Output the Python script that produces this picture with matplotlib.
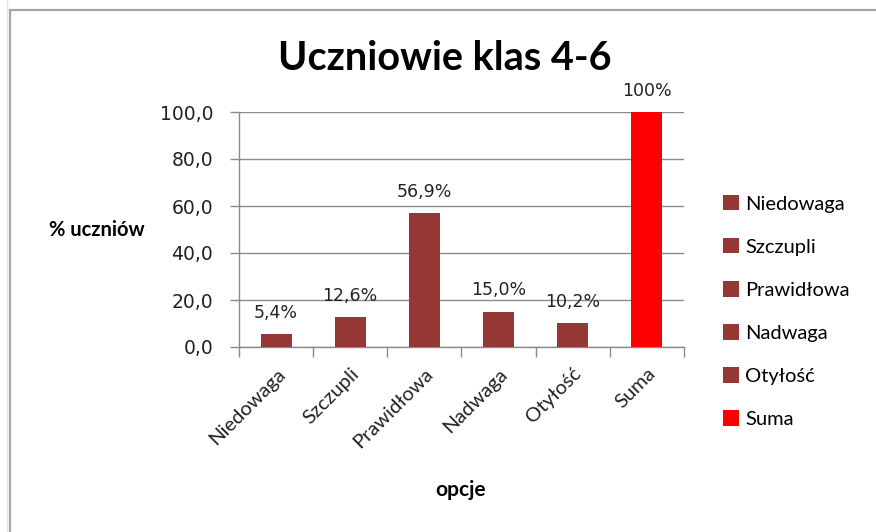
import matplotlib
matplotlib.use("Agg")
import matplotlib.pyplot as plt
from matplotlib.lines import Line2D

categories = ["Niedowaga", "Szczupli", "Prawidłowa", "Nadwaga", "Otyłość", "Suma"]
values = [5.4, 12.6, 56.9, 15.0, 10.2, 100.0]
value_labels = ["5,4%", "12,6%", "56,9%", "15,0%", "10,2%", "100%"]
yticks = [0, 20, 40, 60, 80, 100]
ytick_labels = ["0,0", "20,0", "40,0", "60,0", "80,0", "100,0"]
colors = ["#953735"] * 5 + ["#FF0000"]

W, H = 876, 532
fig = plt.figure(figsize=(W / 100, H / 100), dpi=100)
fig.patch.set_facecolor("white")

# frame lines
fig.add_artist(Line2D([10 / W, 10 / W], [0, 1 - 10 / H], color="#a6a6a6", lw=1.6, transform=fig.transFigure))
fig.add_artist(Line2D([10 / W, 1], [1 - 10 / H, 1 - 10 / H], color="#a6a6a6", lw=1.6, transform=fig.transFigure))
fig.add_artist(Line2D([7 / W, 7 / W], [0, 1], color="#dde3ee", lw=1.0, transform=fig.transFigure))

ax = fig.add_axes([239 / W, 1 - 347 / H, (684 - 239) / W, (347 - 112) / H])
x = list(range(len(categories)))
bars = ax.bar(x, values, width=0.42, color=colors, zorder=3)
for b, lab in zip(bars.patches, categories):
    b.set_label(lab)

ax.set_xlim(-0.5, len(categories) - 0.5)
ax.set_ylim(0, 100)
ax.set_yticks(yticks)
ax.set_yticklabels(ytick_labels, fontsize=13.5, family="DejaVu Sans", color="#222222")
ax.yaxis.grid(True, color="#8a8a8a", lw=1.0, zorder=0)
ax.tick_params(axis="y", length=6.5, color="#8a8a8a", width=1.0, pad=12)

ax.set_xticks(x)
ax.set_xticklabels(categories, rotation=45, ha="right", rotation_mode="anchor",
                   fontsize=14.5, family="Lato", color="#222222")
ax.set_xticks([i - 0.5 for i in range(len(categories) + 1)], minor=True)
ax.tick_params(axis="x", which="major", length=0, pad=13)
ax.tick_params(axis="x", which="minor", length=7, color="#8a8a8a", width=1.0)

for s in ["top", "right"]:
    ax.spines[s].set_visible(False)
for s in ["left", "bottom"]:
    ax.spines[s].set_color("#8a8a8a")
    ax.spines[s].set_linewidth(1.0)

for xi, v, lab in zip(x, values, value_labels):
    ax.annotate(lab, (xi, v), xytext=(0, 9), textcoords="offset points",
                ha="center", va="bottom", fontsize=12.5, family="DejaVu Sans", color="#222222")

fig.text(445 / W, 1 - 58 / H, "Uczniowie klas 4-6", ha="center", va="center",
         fontsize=28.5, fontweight="bold", family="Lato", color="black")
fig.text(97 / W, 1 - 230 / H, "% uczniów", ha="center", va="center",
         fontsize=14.5, fontweight="bold", family="Lato", color="black")
fig.text(461 / W, 1 - 490 / H, "opcje", ha="center", va="center",
         fontsize=15, fontweight="bold", family="Lato", color="black")

leg = fig.legend(handles=list(bars.patches), labels=categories, loc="upper left",
                 bbox_to_anchor=(723 / W, 1 - 195 / H), frameon=False,
                 borderpad=0, borderaxespad=0, handlelength=0.8, handleheight=0.8,
                 handletextpad=0.3, labelspacing=1.26,
                 prop={"family": "Lato", "size": 14.5})

fig.savefig("out.png", dpi=100, facecolor="white")
